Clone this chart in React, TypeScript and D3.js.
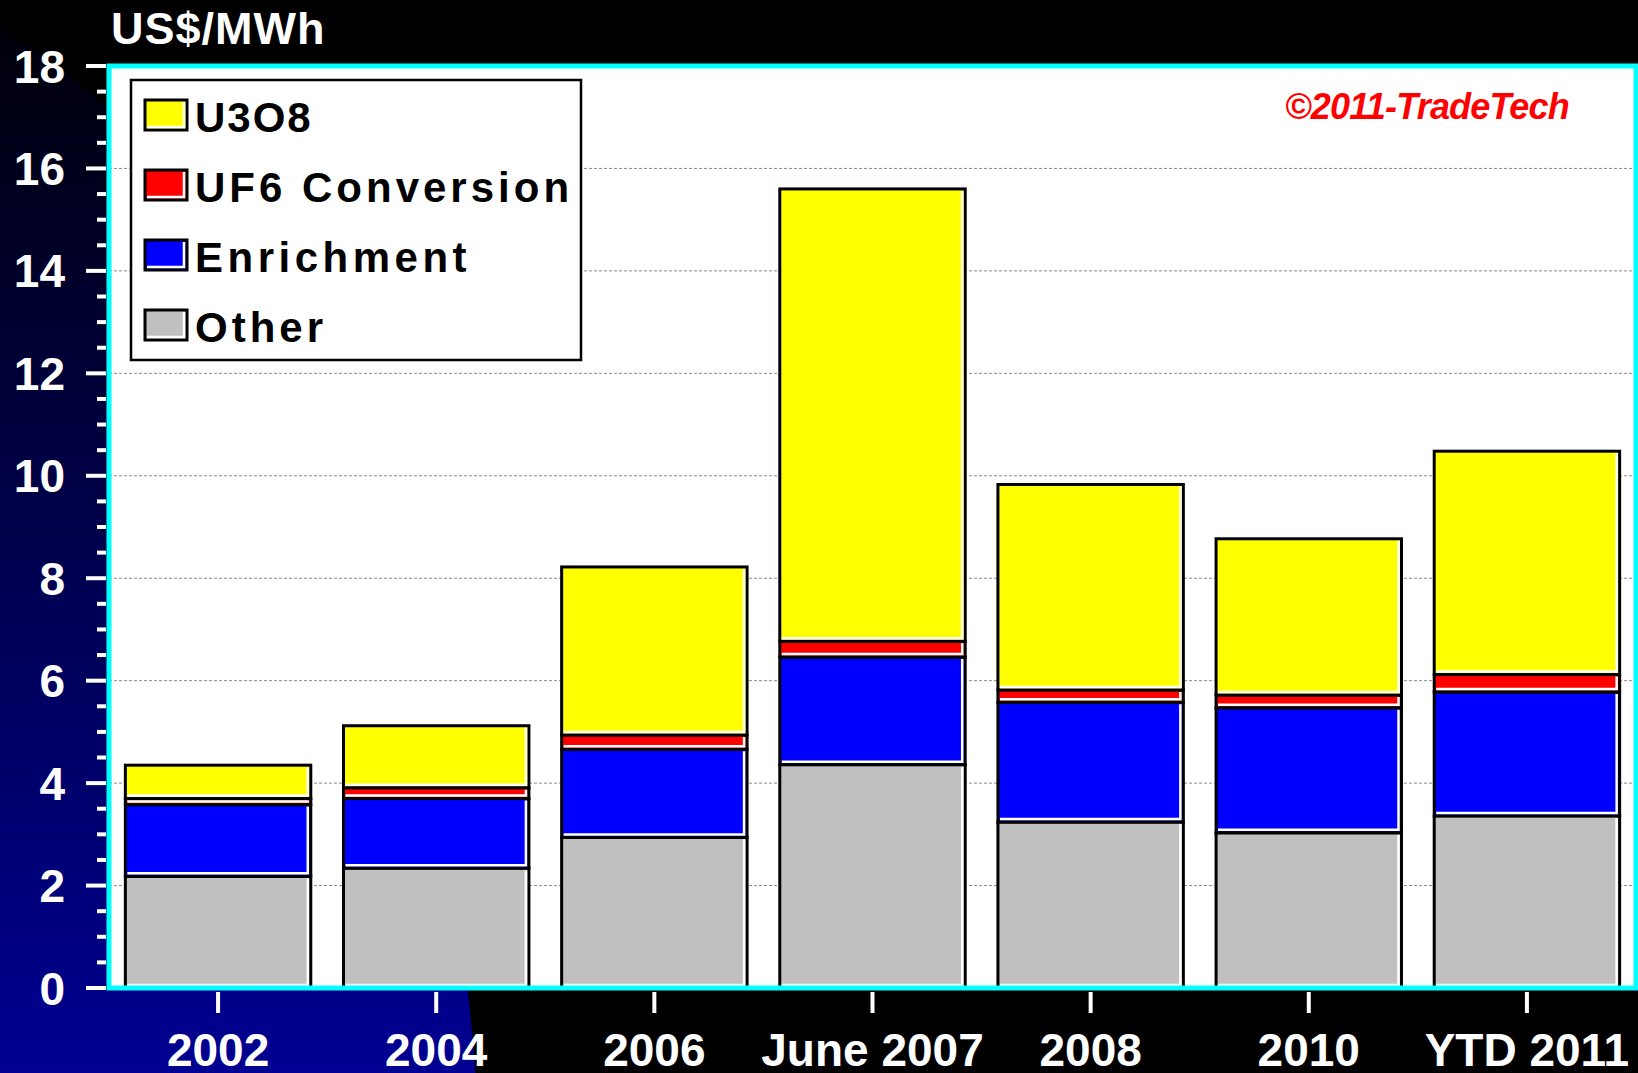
import React from "react";
import * as d3 from "d3";

const categories = ["2002", "2004", "2006", "June 2007", "2008", "2010", "YTD 2011"];
const seriesNames = ["Other", "Enrichment", "UF6 Conversion", "U3O8"];
const other = [2.18, 2.34, 2.94, 4.36, 3.24, 3.03, 3.36];
const enrichment = [1.40, 1.36, 1.72, 2.10, 2.34, 2.44, 2.42];
const uf6 = [0.12, 0.21, 0.28, 0.31, 0.24, 0.25, 0.34];
const u3o8 = [0.65, 1.21, 3.28, 8.83, 4.01, 3.05, 4.36];
const yTicks = [0, 2, 4, 6, 8, 10, 12, 14, 16, 18];
const legendOrder = ["U3O8", "UF6 Conversion", "Enrichment", "Other"];

const colors: Record<string, string> = {
  Other: "#c0c0c0",
  Enrichment: "#0000ff",
  "UF6 Conversion": "#ff0000",
  U3O8: "#ffff00",
};
const legendSpacing: Record<string, number> = {
  U3O8: 2,
  "UF6 Conversion": 4,
  Enrichment: 4.5,
  Other: 4,
};

const W = 1638;
const H = 1073;
const left = 109;
const right = 1636;
const top = 66;
const bottom = 988;

export default function App() {
  const table = categories.map((c, i) => ({
    cat: c,
    Other: other[i],
    Enrichment: enrichment[i],
    "UF6 Conversion": uf6[i],
    U3O8: u3o8[i],
  }));
  const stack = d3.stack<any>().keys(seriesNames)(table);

  const x = d3.scaleBand<string>().domain(categories).range([left, right]).paddingInner(0.15).paddingOuter(0.075);
  const y = d3.scaleLinear().domain([0, 18]).range([bottom, top]);
  const minorTicks = d3.range(0, 18.01, 0.5).filter((v) => Math.abs(v % 2) > 0.01);

  const seg = (xx: number, yy: number, w: number, h: number, fill: string, key: string) => (
    <g key={key}>
      <rect x={xx} y={yy} width={w} height={h} fill={fill} stroke="#000" strokeWidth={3} />
      <polyline
        points={`${xx + 2},${yy + h - 3} ${xx + w - 3},${yy + h - 3} ${xx + w - 3},${yy + 2}`}
        fill="none"
        stroke="#fff"
        strokeWidth={2.5}
      />
    </g>
  );

  return (
    <svg width={W} height={H} style={{ position: "absolute", left: 0, top: 0, display: "block" }}
      fontFamily="'Liberation Sans', Arial, sans-serif">
      <defs>
        <linearGradient id="navy" gradientUnits="userSpaceOnUse" x1="0" y1="0" x2="0" y2={H}>
          <stop offset="0" stopColor="#000006" />
          <stop offset="1" stopColor="#000092" />
        </linearGradient>
      </defs>
      <rect x={0} y={0} width={W} height={H} fill="#000" />
      <ellipse cx={-200} cy={1250} rx={682} ry={1278} fill="url(#navy)" />

      {/* plot background */}
      <rect x={left} y={top} width={right - left} height={bottom - top} fill="#fff" />
      {yTicks.filter((t) => t > 0 && t < 18).map((t) => (
        <line key={"g" + t} x1={left} x2={right} y1={y(t)} y2={y(t)} stroke="#8a8a8a" strokeWidth={1} strokeDasharray="3,2" />
      ))}

      {/* bars */}
      {stack.map((layer) =>
        layer.map((d, i) => {
          const cat = categories[i];
          const x0 = x(cat)!;
          const y0 = y(d[1]);
          const h = y(d[0]) - y(d[1]);
          return seg(x0, y0, x.bandwidth(), h, colors[layer.key], layer.key + i);
        })
      )}

      {/* plot border */}
      <rect x={left} y={top} width={right - left} height={bottom - top} fill="none" stroke="#00ffff" strokeWidth={5} />

      {/* y axis ticks */}
      {yTicks.map((t) => (
        <line key={"yt" + t} x1={86} x2={106} y1={y(t)} y2={y(t)} stroke="#fff" strokeWidth={4} />
      ))}
      {minorTicks.map((t) => (
        <line key={"ym" + t} x1={97} x2={106} y1={y(t)} y2={y(t)} stroke="#fff" strokeWidth={4} />
      ))}
      {yTicks.map((t) => (
        <text key={"yl" + t} x={65} y={y(t)} dy="0.36em" textAnchor="end" fill="#fff" fontSize={46} fontWeight="bold">
          {t}
        </text>
      ))}

      {/* x axis ticks & labels */}
      {categories.map((c) => {
        const cx = x(c)! + x.bandwidth() / 2;
        return (
          <g key={"xt" + c}>
            <line x1={cx} x2={cx} y1={992} y2={1013} stroke="#fff" strokeWidth={4} />
            <text x={cx} y={1066} textAnchor="middle" fill="#fff" fontSize={46} fontWeight="bold">
              {c}
            </text>
          </g>
        );
      })}

      {/* title */}
      <text x={111} y={44} fill="#fff" fontSize={45} fontWeight="bold" letterSpacing={1}>US$/MWh</text>

      {/* copyright */}
      <text x={1285} y={119} fill="#ff0000" fontSize={36} fontWeight="bold" fontStyle="italic" letterSpacing={-0.8}>
        ©2011-TradeTech
      </text>

      {/* legend */}
      <rect x={131} y={80} width={450} height={280} fill="#fff" stroke="#000" strokeWidth={2.5} />
      {legendOrder.map((name, i) => {
        const ry = 100 + i * 70;
        return (
          <g key={"lg" + name}>
            {seg(145, ry, 42, 30, colors[name], "sw" + name)}
            <text x={195} y={ry + 32} fill="#000" fontSize={42} fontWeight="bold" letterSpacing={legendSpacing[name]}>
              {name}
            </text>
          </g>
        );
      })}
    </svg>
  );
}
